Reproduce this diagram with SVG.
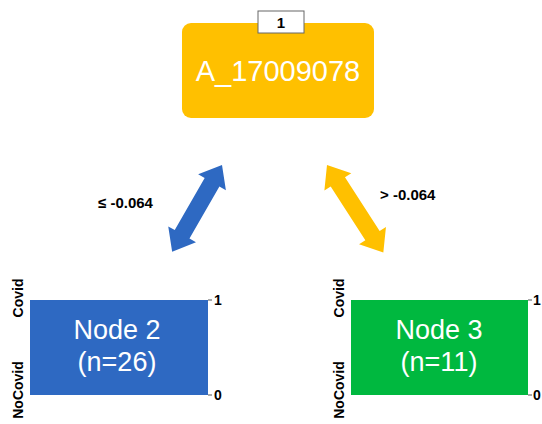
<svg xmlns="http://www.w3.org/2000/svg" width="542" height="424" viewBox="0 0 542 424">
<style>
.big{font-family:"Liberation Sans",Arial,sans-serif;fill:#fff;text-anchor:middle}
.lbl{font-family:"Liberation Sans",Arial,sans-serif;font-weight:bold;fill:#000}
.ax{font-family:"Liberation Sans",Arial,sans-serif;font-weight:bold;font-size:14px;fill:#000}
.tick{stroke:#555;stroke-width:1}
</style>
<rect width="542" height="424" fill="#fff"/>
<g id="connectors">
  <g transform="translate(222,165) rotate(119.9)">
    <polygon points="0,0 20,-16 20,-8.5 80,-8.5 80,-16 100,0 80,16 80,8.5 20,8.5 20,16" fill="#2E69C2"/>
  </g>
  <g transform="translate(327,165) rotate(57.2)">
    <polygon points="0,0 20,-16 20,-8.5 84,-8.5 84,-16 104,0 84,16 84,8.5 20,8.5 20,16" fill="#FFC000"/>
  </g>
  <text class="lbl" x="98" y="208" font-size="15">≤ -0.064</text>
  <text class="lbl" x="380" y="200" font-size="15">&gt; -0.064</text>
</g>
<g id="node1">
  <rect x="182" y="23" width="192" height="95" rx="9" fill="#FFC000"/>
  <text class="big" x="278" y="81" font-size="29">A_17009078</text>
  <rect x="258" y="11" width="46" height="22" fill="#fff" stroke="#666" stroke-width="1"/>
  <text class="lbl" x="281" y="28" font-size="15" text-anchor="middle">1</text>
</g>
<g id="node2">
  <rect x="30" y="300" width="178" height="95" fill="#2E69C2"/>
  <text class="big" x="117" y="339" font-size="27">Node 2</text>
  <text class="big" x="117" y="371" font-size="27">(n=26)</text>
  <line class="tick" x1="208" y1="300" x2="212" y2="300"/>
  <line class="tick" x1="208" y1="395" x2="212" y2="395"/>
  <text class="ax" x="214" y="305">1</text>
  <text class="ax" x="214" y="400">0</text>
  <text class="ax" transform="translate(23,298) rotate(-90)" text-anchor="middle">Covid</text>
  <text class="ax" transform="translate(23,390) rotate(-90)" text-anchor="middle">NoCovid</text>
</g>
<g id="node3">
  <rect x="351" y="300" width="177" height="95" fill="#00B83F"/>
  <text class="big" x="439" y="339" font-size="27">Node 3</text>
  <text class="big" x="439" y="371" font-size="27">(n=11)</text>
  <line class="tick" x1="528" y1="300" x2="532" y2="300"/>
  <line class="tick" x1="528" y1="395" x2="532" y2="395"/>
  <text class="ax" x="533" y="305">1</text>
  <text class="ax" x="533" y="400">0</text>
  <text class="ax" transform="translate(344,298) rotate(-90)" text-anchor="middle">Covid</text>
  <text class="ax" transform="translate(344,390) rotate(-90)" text-anchor="middle">NoCovid</text>
</g>
</svg>
